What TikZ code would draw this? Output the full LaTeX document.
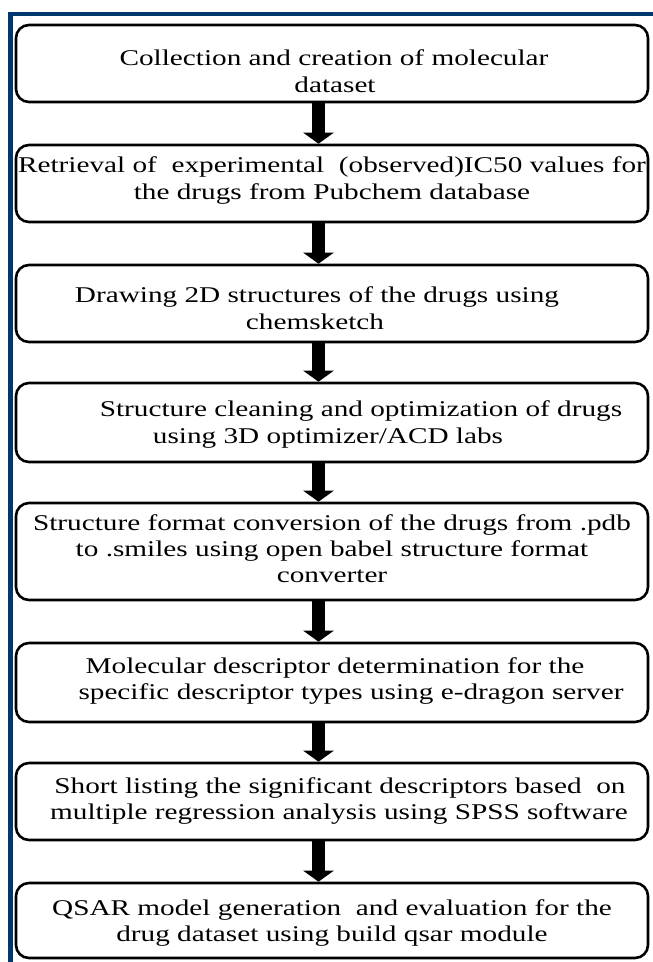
\documentclass[tikz,border=0pt]{standalone}
\usepackage{fontspec}
\setmainfont[FakeStretch=1.3]{Liberation Serif}
\usetikzlibrary{arrows.meta}
\definecolor{frameblue}{RGB}{0,55,110}
\tikzset{
  stepbox/.style={draw=black, line width=2.6pt, rounded corners=13pt, fill=white, minimum width=632pt, inner sep=0pt},
  txt/.style={anchor=base, inner sep=0pt, font=\fontsize{22.5}{26}\selectfont, text=black},
  flow/.style={line width=13pt, -{Triangle[width=30pt,length=11pt]}, black}
}
\begin{document}
\begin{tikzpicture}[x=1pt,y=-1pt]
\path[use as bounding box, fill=white] (0,0) rectangle (653,962);
\fill[frameblue] (8,12) rectangle (653,16);
\fill[frameblue] (8,12) rectangle (13,962);
\coordinate (ax) at (318.5,0);
% boxes
\node[stepbox, minimum height=77pt] (b1) at (332,63.5) {};
\node[stepbox, minimum height=77pt] (b2) at (332,183.5) {};
\node[stepbox, minimum height=77pt] (b3) at (332,303.5) {};
\node[stepbox, minimum height=79pt] (b4) at (332,422.5) {};
\node[stepbox, minimum height=97pt] (b5) at (332,551.5) {};
\node[stepbox, minimum height=79pt] (b6) at (332,682.5) {};
\node[stepbox, minimum height=77pt] (b7) at (332,801.5) {};
\node[stepbox, minimum height=75pt] (b8) at (332,920.5) {};
% texts
\node[txt] (t1a) at (334,65) {Collection and creation of molecular};
\node[txt] (t1b) at (335,92) {dataset};
\node[txt] (t2a) at (332,172) {Retrieval of\ \ experimental\ \ (observed)IC50 values for};
\node[txt] (t2b) at (332,199) {the drugs from Pubchem database};
\node[txt] (t3a) at (317,302) {Drawing 2D structures of the drugs using};
\node[txt] (t3b) at (315,329) {chemsketch};
\node[txt] (t4a) at (361,416) {Structure cleaning and optimization of drugs};
\node[txt] (t4b) at (328,443) {using 3D optimizer/ACD labs};
\node[txt] (t5a) at (332,530) {Structure format conversion of the drugs from .pdb};
\node[txt] (t5b) at (332,556) {to .smiles using open babel structure format};
\node[txt] (t5c) at (332,582) {converter};
\node[txt] (t6a) at (335,673) {Molecular descriptor determination for the};
\node[txt] (t6b) at (351,699) {specific descriptor types using e-dragon server};
\node[txt] (t7a) at (340,793) {Short listing the significant descriptors based\ \ on};
\node[txt] (t7b) at (339,819) {multiple regression analysis using SPSS software};
\node[txt] (t8a) at (332,915) {QSAR model generation\ \ and evaluation for the};
\node[txt] (t8b) at (332,941) {drug dataset using build qsar module};
% arrows
\foreach \a/\b in {b1/b2,b2/b3,b3/b4,b4/b5,b5/b6,b6/b7,b7/b8}{
  \draw[flow] (\a.south -| ax) -- (\b.north -| ax);
}
\end{tikzpicture}
\end{document}
